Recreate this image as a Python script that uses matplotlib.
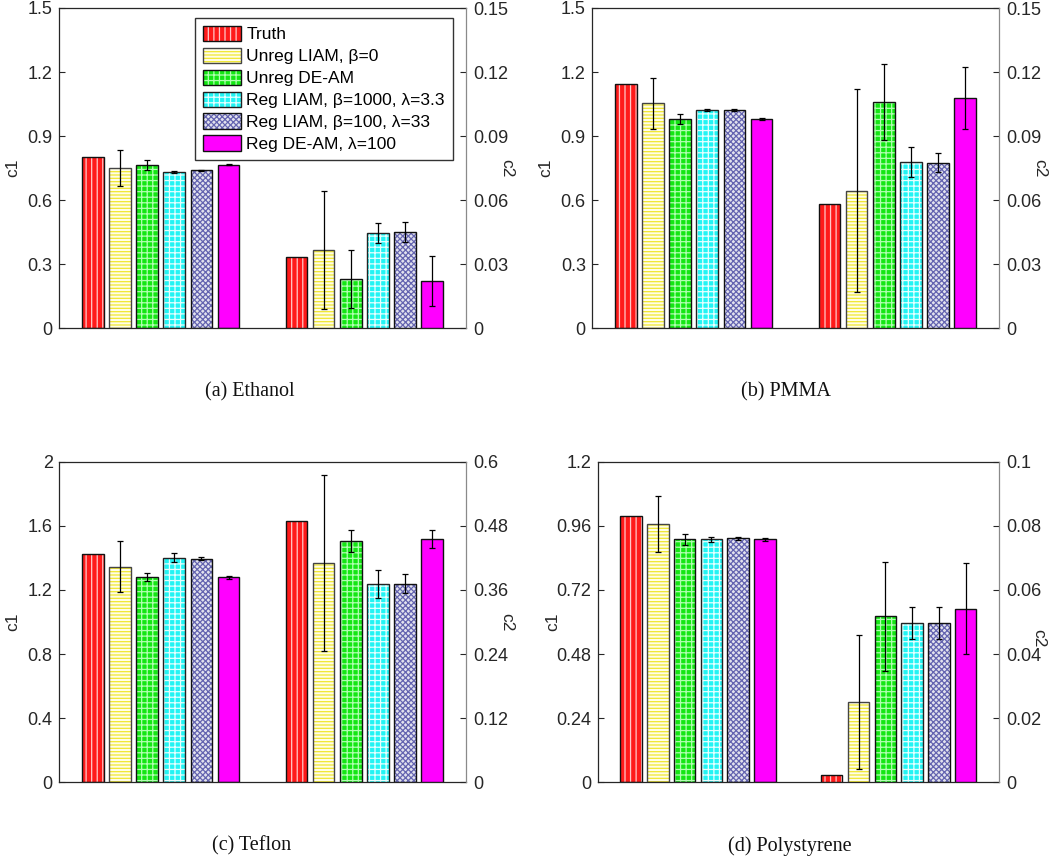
import matplotlib
matplotlib.use('Agg')
import matplotlib.pyplot as plt
from matplotlib.patches import Patch
from matplotlib.legend_handler import HandlerTuple
from matplotlib.ticker import FixedLocator, FuncFormatter
import numpy as np

plt.rcParams['font.family'] = ['Liberation Sans', 'DejaVu Sans']
plt.rcParams['hatch.linewidth'] = 0.9

series = ["Truth", "Unreg LIAM, β=0", "Unreg DE-AM",
          "Reg LIAM, β=1000, λ=3.3", "Reg LIAM, β=100, λ=33", "Reg DE-AM, λ=100"]

# Ethanol
eth_c1 = [0.80, 0.75, 0.765, 0.733, 0.739, 0.766]
eth_c1_err = [0, 0.085, 0.025, 0.004, 0.003, 0.003]
eth_c2 = [0.0336, 0.0367, 0.0231, 0.0448, 0.0453, 0.0222]
eth_c2_err = [0, 0.0277, 0.0135, 0.0047, 0.0047, 0.0117]
# PMMA
pmma_c1 = [1.144, 1.053, 0.980, 1.022, 1.022, 0.980]
pmma_c1_err = [0, 0.12, 0.022, 0.005, 0.006, 0.005]
pmma_c2 = [0.0581, 0.0645, 0.106, 0.0778, 0.0775, 0.108]
pmma_c2_err = [0, 0.0475, 0.018, 0.007, 0.0045, 0.0145]
# Teflon
tef_c1 = [1.422, 1.345, 1.279, 1.401, 1.395, 1.279]
tef_c1_err = [0, 0.16, 0.025, 0.028, 0.01, 0.01]
tef_c2 = [0.4896, 0.410, 0.452, 0.371, 0.372, 0.455]
tef_c2_err = [0, 0.165, 0.021, 0.027, 0.018, 0.017]
# Polystyrene
ps_c1 = [0.995, 0.966, 0.910, 0.910, 0.914, 0.909]
ps_c1_err = [0, 0.105, 0.02, 0.01, 0.006, 0.004]
ps_c2 = [0.0023, 0.0251, 0.0518, 0.0497, 0.0497, 0.0541]
ps_c2_err = [0, 0.021, 0.017, 0.005, 0.005, 0.0142]

captions = ["(a) Ethanol", "(b) PMMA", "(c) Teflon", "(d) Polystyrene"]
c1_ticks = [[0, 0.3, 0.6, 0.9, 1.2, 1.5], [0, 0.3, 0.6, 0.9, 1.2, 1.5],
            [0, 0.4, 0.8, 1.2, 1.6, 2], [0, 0.24, 0.48, 0.72, 0.96, 1.2]]
c2_ticks = [[0, 0.03, 0.06, 0.09, 0.12, 0.15], [0, 0.03, 0.06, 0.09, 0.12, 0.15],
            [0, 0.12, 0.24, 0.36, 0.48, 0.6], [0, 0.02, 0.04, 0.06, 0.08, 0.1]]

panels = [
    (eth_c1, eth_c1_err, eth_c2, eth_c2_err),
    (pmma_c1, pmma_c1_err, pmma_c2, pmma_c2_err),
    (tef_c1, tef_c1_err, tef_c2, tef_c2_err),
    (ps_c1, ps_c1_err, ps_c2, ps_c2_err),
]

faces = ['#ff1a1a', '#fffde6', '#14e614', '#22f4f4', '#e2e2ee', '#ff00ff']
hcols = ['#ffc8c8', '#f0e830', '#b0ffb0', '#e6ffff', '#6464b0', '#ff00ff']
hatches = ['|||', '-----', '+++', '+++', 'xxxxxx', None]
edgecols = ['#111111', '#444444', '#111111', '#222222', '#111111', '#111111']

W, H = 1050, 857
fig = plt.figure(figsize=(W / 100, H / 100), dpi=100)

# axes pixel boxes: left, right, top, bottom
boxes = [(59, 466, 8, 328.3), (592, 999, 8, 328.3),
         (59, 466, 461.7, 782.3), (597.7, 999, 461.7, 782.3)]
cap_pos = [(250, 392), (786, 392), (252, 846), (790, 846)]
c2_label_y = [0.5, 0.5, 0.5, 0.45]

nser = len(series)
gw = 0.8 / nser
bw = gw * 0.8
offsets = [(i - (nser - 1) / 2) * gw for i in range(nser)]

fmt = FuncFormatter(lambda v, p: '%g' % round(v, 6))
dark = '#262626'

for k, (c1, c1e, c2, c2e) in enumerate(panels):
    l, r, t, b = boxes[k]
    ax = fig.add_axes([l / W, 1 - b / H, (r - l) / W, (b - t) / H])
    ax2 = ax.twinx()
    for a, vals, errs, xc in ((ax, c1, c1e, 1), (ax2, c2, c2e, 2)):
        for i in range(nser):
            x = xc + offsets[i]
            a.bar(x, vals[i], bw, color=faces[i], edgecolor=hcols[i],
                  hatch=hatches[i], linewidth=0, zorder=2)
            a.bar(x, vals[i], bw, fill=False, edgecolor=edgecols[i],
                  linewidth=1.0, zorder=3)
            if errs[i] > 0:
                a.errorbar(x, vals[i], yerr=errs[i], fmt='none', ecolor='k',
                           elinewidth=0.9, capsize=2.2, capthick=0.9, zorder=4)
    ax.set_xlim(0.5, 2.5)
    ax.set_xticks([])
    ax.set_ylim(c1_ticks[k][0], c1_ticks[k][-1])
    ax2.set_ylim(c2_ticks[k][0], c2_ticks[k][-1])
    ax.yaxis.set_major_locator(FixedLocator(c1_ticks[k]))
    ax2.yaxis.set_major_locator(FixedLocator(c2_ticks[k]))
    ax.yaxis.set_major_formatter(fmt)
    ax2.yaxis.set_major_formatter(fmt)
    ax.tick_params(axis='y', direction='in', length=4, width=0.8,
                   labelsize=13, pad=4.5, colors=dark)
    ax2.tick_params(axis='y', direction='in', length=4, width=0.8,
                    labelsize=13, pad=5, color=dark, labelcolor=dark)
    ax.tick_params(axis='x', length=0)
    for s in ('left', 'top', 'bottom'):
        ax.spines[s].set_color(dark)
        ax.spines[s].set_linewidth(0.9)
        ax2.spines[s].set_visible(False)
    ax.spines['right'].set_visible(False)
    ax2.spines['right'].set_color('#8a8a8a')
    ax2.spines['right'].set_linewidth(0.9)
    ax.text(-0.113, 0.5, 'c1', transform=ax.transAxes, rotation=90,
            ha='center', va='center', fontsize=12.5, color=dark)
    ax2.text(1.1, c2_label_y[k], 'c2', transform=ax.transAxes, rotation=270,
             ha='center', va='center', fontsize=12.5, color=dark)
    cx, cy = cap_pos[k]
    fig.text(cx / W, 1 - cy / H, captions[k], family=['Liberation Serif', 'DejaVu Serif'],
             fontsize=14.5, ha='center', va='center', color='#111111')
    if k == 0:
        handles = []
        for i in range(nser):
            handles.append((Patch(facecolor=faces[i], edgecolor=hcols[i],
                                  hatch=hatches[i], linewidth=0),
                            Patch(facecolor='none', edgecolor=edgecols[i], linewidth=1.0)))
        leg = ax2.legend(handles, series, loc='upper right',
                         bbox_to_anchor=(0.967, 0.969), borderaxespad=0,
                         handler_map={tuple: HandlerTuple(ndivide=1, pad=0)},
                         fontsize=12.5, handlelength=2.2, handleheight=1.0,
                         labelspacing=0.3, handletextpad=0.3, borderpad=0.45,
                         fancybox=False, framealpha=1, edgecolor='#333333')
        leg.get_frame().set_linewidth(1.0)
        leg.set_zorder(10)

fig.savefig('out.png', dpi=100)
